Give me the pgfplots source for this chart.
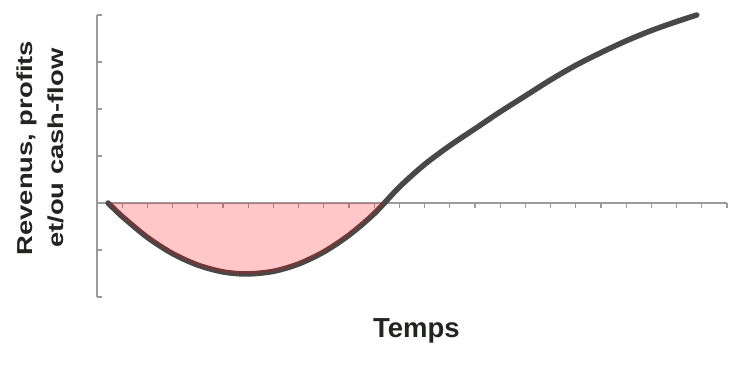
\documentclass[border=0pt]{standalone}
\usepackage{pgfplots}
\pgfplotsset{compat=1.18}
\usepackage{graphicx}
\usepackage{fontspec}
\setmainfont{Liberation Sans}
\definecolor{axisgray}{RGB}{155,155,155}
\definecolor{curvegray}{RGB}{72,72,72}
\definecolor{labelcol}{RGB}{34,36,34}
\begin{document}
\begin{tikzpicture}
\begin{axis}[
  scale only axis,
  width=630pt, height=282pt,
  at={(0,0)}, anchor=south west,
  xmin=0, xmax=25, ymin=-2, ymax=4,
  axis x line=middle, axis y line=left,
  x axis line style={-, line width=1.4pt, color=axisgray},
  y axis line style={-, line width=1.4pt, color=axisgray},
  xtick={1,...,25}, ytick={-2,-1,0,1,2,3,4},
  xticklabels={}, yticklabels={},
  major tick length=5pt,
  every tick/.style={line width=1.2pt, color=axisgray},
  xtick align=outside, ytick align=inside,
  clip=false,
  xlabel={\fontsize{27.5}{33}\selectfont\bfseries Temps},
  xlabel style={at={(axis description cs:0.507,-0.143)}, anchor=base, text=labelcol, inner sep=0pt},
  ylabel={\scalebox{1}[0.79]{\fontsize{27.4}{38}\selectfont\bfseries\begin{tabular}{@{}c@{}}Revenus, profits\\et/ou cash-flow\end{tabular}}},
  ylabel style={at={(axis description cs:-0.0873,0.528)}, anchor=center, text=labelcol, inner sep=0pt},
]
\addplot[curvegray, line width=5.5pt, smooth, line cap=round] coordinates {
(0.44,0) (1,-0.287) (2,-0.732) (3,-1.077) (4,-1.321) (5,-1.466) (5.94,-1.51)
(7,-1.454) (8,-1.297) (9,-1.041) (10,-0.684) (11,-0.227)
(12,0.34) (13,0.82) (14,1.22) (15,1.58) (16,1.94) (17,2.28) (18,2.62)
(19,2.93) (20,3.20) (21,3.45) (22,3.67) (23,3.86) (23.8,4.0)
};
\addplot[draw=none, fill=red, fill opacity=0.22, smooth] coordinates {
(0.44,0) (1,-0.287) (2,-0.732) (3,-1.077) (4,-1.321) (5,-1.466) (5.94,-1.51)
(7,-1.454) (8,-1.297) (9,-1.041) (10,-0.684) (11,-0.227) (11.43,0)
} -- cycle;
\end{axis}
\pgfresetboundingbox
\useasboundingbox (-97pt,-67pt) rectangle (647pt,297pt);
\end{tikzpicture}
\end{document}
